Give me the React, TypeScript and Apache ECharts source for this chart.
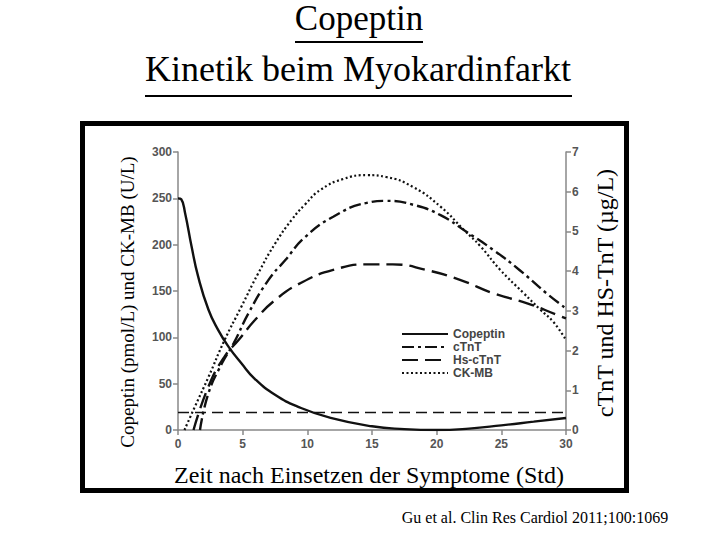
import React, { useEffect, useRef } from "react";
import * as echarts from "echarts";

// Hours after symptom onset
const copeptin: [number, number][] = [
  [0, 250], [0.25, 249], [0.55, 234], [1.05, 198], [1.55, 166], [2.35, 130], [3.1, 108],
  [3.9, 90], [4.9, 72], [5.95, 55], [7.5, 38], [9.3, 25], [11.8, 13], [15, 4], [17.5, 1],
  [20, 0], [22.5, 1.5], [25, 5], [27.5, 9], [30, 13],
];
const cTnT: [number, number][] = [
  [1.7, 0], [2.35, 0.92], [3.4, 1.68], [4.3, 2.18], [5.45, 2.94], [7.0, 3.78],
  [8.3, 4.28], [9.8, 4.85], [12.0, 5.37], [14.6, 5.72], [16.1, 5.77], [18.2, 5.67],
  [20.3, 5.41], [22.3, 4.99], [24.4, 4.53], [26.4, 4.03], [28.5, 3.44], [30, 3.06],
];
const hsCTnT: [number, number][] = [
  [1.2, 0], [2.35, 1.09], [3.6, 1.85], [4.7, 2.27], [5.95, 2.77], [7.5, 3.27],
  [9.6, 3.72], [12.0, 4.03], [14.6, 4.17], [16.6, 4.17], [19.2, 4.03], [21.8, 3.78],
  [24.4, 3.44], [27, 3.19], [29.3, 2.9], [30, 2.81],
];
const ckMB: [number, number][] = [
  [0.5, 0], [1.3, 25], [2.35, 57], [3.6, 97], [4.9, 133], [6.2, 169], [7.5, 201],
  [8.8, 227], [9.8, 243], [11, 259], [12.8, 271], [14.6, 275], [16.1, 273],
  [18.2, 262], [20.3, 241], [22.1, 216], [23.4, 198], [24.9, 173], [26.7, 148],
  [28, 130], [29, 117], [30, 97],
];
const cutoffLine: [number, number][] = [[0, 19], [30, 19]];

const seriesNames = ["Copeptin", "cTnT", "Hs-cTnT", "CK-MB"];
const titleLines = ["Copeptin", "Kinetik beim Myokardinfarkt"];
const leftAxisLabel = "Copeptin (pmol/L) und CK-MB (U/L)";
const rightAxisLabel = "cTnT und HS-TnT (µg/L)";
const xAxisLabel = "Zeit nach Einsetzen der Symptome (Std)";
const citation = "Gu et al. Clin Res Cardiol 2011;100:1069";

const SERIF = "'Liberation Serif', 'Times New Roman', serif";
const SANS = "'Liberation Sans', Arial, sans-serif";
const INK = "#111";

export default function App() {
  const ref = useRef<HTMLDivElement>(null);
  useEffect(() => {
    document.body.style.margin = "0";
    const chart = echarts.init(ref.current!, null, { renderer: "svg" });
    const axisLine = { show: true, lineStyle: { color: "#888", width: 1.5 } };
    const axisTick = { show: true, length: 5, lineStyle: { color: "#888", width: 1.5 } };
    const axisLabel = { color: "#555", fontSize: 12, fontWeight: "bold" as const, fontFamily: SANS };
    const lineCommon = { type: "line" as const, smooth: true, symbol: "none", showSymbol: false };
    chart.setOption({
      animation: false,
      backgroundColor: "#fff",
      grid: { left: 178, right: 154, top: 152, bottom: 110 },
      legend: {
        data: seriesNames,
        orient: "vertical",
        left: 396,
        top: 323,
        padding: 5,
        itemWidth: 46,
        itemHeight: 10,
        itemGap: 1,
        itemStyle: { opacity: 0 },
        textStyle: { fontSize: 12, fontWeight: "bold", color: "#444", fontFamily: SANS },
      },
      xAxis: {
        type: "value", min: 0, max: 30, interval: 5,
        splitLine: { show: false }, axisLine, axisTick,
        axisLabel: { ...axisLabel, margin: 8 },
      },
      yAxis: [
        {
          type: "value", min: 0, max: 300, interval: 50, position: "left",
          splitLine: { show: false }, axisLine, axisTick,
          axisLabel: { ...axisLabel, margin: 6 },
        },
        {
          type: "value", min: 0, max: 7, interval: 1, position: "right",
          splitLine: { show: false }, axisLine, axisTick,
          axisLabel: { ...axisLabel, margin: 6 },
        },
      ],
      series: [
        { ...lineCommon, name: "Copeptin", yAxisIndex: 0, data: copeptin,
          lineStyle: { color: INK, width: 2.4, type: "solid" }, itemStyle: { color: INK } },
        { ...lineCommon, name: "cTnT", yAxisIndex: 1, data: cTnT,
          lineStyle: { color: INK, width: 2.4, type: [12, 4, 3, 4] }, itemStyle: { color: INK } },
        { ...lineCommon, name: "Hs-cTnT", yAxisIndex: 1, data: hsCTnT,
          lineStyle: { color: INK, width: 2.4, type: [16, 7] }, itemStyle: { color: INK } },
        { ...lineCommon, name: "CK-MB", yAxisIndex: 0, data: ckMB,
          lineStyle: { color: INK, width: 2.2, type: [2, 2.5] }, itemStyle: { color: INK } },
        { ...lineCommon, smooth: false, name: "cutoff", yAxisIndex: 0, data: cutoffLine,
          lineStyle: { color: INK, width: 1.5, type: [11, 6] }, itemStyle: { color: INK } },
      ],
      graphic: [
        { type: "rect", shape: { x: 82.5, y: 123.5, width: 544, height: 367 },
          style: { fill: "none", stroke: "#000", lineWidth: 5 } },
        { type: "text", x: 359, y: 36, style: { text: titleLines[0], font: `35px ${SERIF}`,
          fill: "#000", textAlign: "center", textVerticalAlign: "bottom" } },
        { type: "line", shape: { x1: 295, y1: 42, x2: 423, y2: 42 }, style: { stroke: "#000", lineWidth: 2 } },
        { type: "text", x: 358, y: 87, style: { text: titleLines[1], font: `36px ${SERIF}`,
          fill: "#000", textAlign: "center", textVerticalAlign: "bottom" } },
        { type: "line", shape: { x1: 145, y1: 96, x2: 572, y2: 96 }, style: { stroke: "#000", lineWidth: 2 } },
        { type: "text", x: 127, y: 302, rotation: Math.PI / 2, style: { text: leftAxisLabel,
          font: `19px ${SERIF}`, fill: "#000", textAlign: "center", textVerticalAlign: "middle" } },
        { type: "text", x: 605, y: 293, rotation: Math.PI / 2, style: { text: rightAxisLabel,
          font: `24px ${SERIF}`, fill: "#000", textAlign: "center", textVerticalAlign: "middle" } },
        { type: "text", x: 369, y: 475, style: { text: xAxisLabel, font: `24px ${SERIF}`,
          fill: "#000", textAlign: "center", textVerticalAlign: "middle" } },
        { type: "text", x: 535, y: 517, style: { text: citation, font: `16px ${SERIF}`,
          fill: "#000", textAlign: "center", textVerticalAlign: "middle" } },
      ],
    });
    return () => chart.dispose();
  }, []);
  return <div ref={ref} style={{ width: 720, height: 540 }} />;
}
